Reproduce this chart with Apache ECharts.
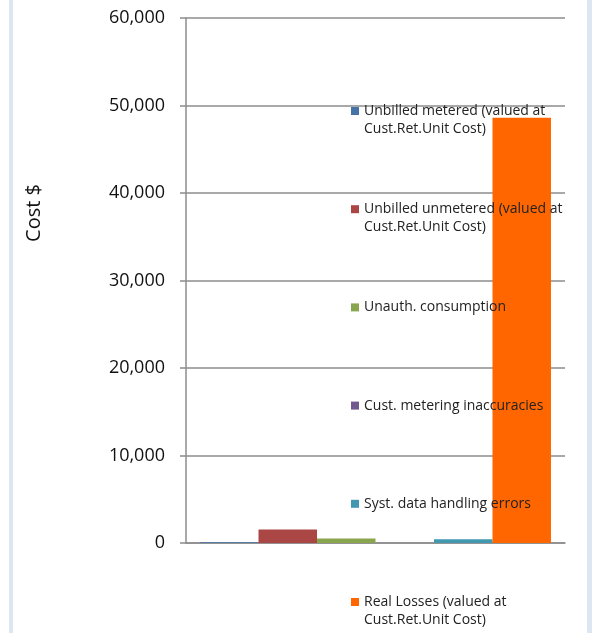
<!DOCTYPE html>
<html>
<head>
<meta charset="utf-8">
<script src="https://cdn.jsdelivr.net/npm/echarts@6/dist/echarts.min.js"></script>
<style>
  html, body { margin: 0; padding: 0; background: #fff; }
  #chart { width: 592px; height: 633px; }
</style>
</head>
<body>
<div id="chart"></div>
<script>
// one empty category, six cost components
const categories = [''];
const seriesNames = [
  'Unbilled metered (valued at Cust.Ret.Unit Cost)',
  'Unbilled unmetered (valued at Cust.Ret.Unit Cost)',
  'Unauth. consumption',
  'Cust. metering inaccuracies',
  'Syst. data handling errors',
  'Real Losses (valued at Cust.Ret.Unit Cost)'
];
// how the legend wraps each name
const legendLines = [
  ['Unbilled metered (valued at', 'Cust.Ret.Unit Cost)'],
  ['Unbilled unmetered (valued at', 'Cust.Ret.Unit Cost)'],
  ['Unauth. consumption'],
  ['Cust. metering inaccuracies'],
  ['Syst. data handling errors'],
  ['Real Losses (valued at', 'Cust.Ret.Unit Cost)']
];
const seriesValues = [100, 1550, 520, 0, 420, 48600];
const colors = ['#4572A7', '#AA4643', '#89A54E', '#71588F', '#4198AF', '#FF6600'];
const yTicks = { min: 0, max: 60000, interval: 10000 };

const chart = echarts.init(document.getElementById('chart'));
const font = '"Open Sans", "Liberation Sans", sans-serif';

// pad every legend entry to 3 lines so the marker sits on the first text line
const legendText = {};
seriesNames.forEach((n, i) => {
  const l = legendLines[i];
  legendText[n] = l.length > 1 ? '\n' + l[0] + '\n' + l[1] : '\n' + l[0] + '\n';
});

let option = {
  animation: false,
  color: colors,
  grid: { left: 186, right: 27, top: 18, bottom: 90 },
  legend: {
    orient: 'vertical',
    left: 351,
    top: 84,
    height: 600,
    padding: 0,
    itemWidth: 8,
    itemHeight: 8,
    itemGap: 44.2,
    icon: 'rect',
    data: seriesNames,
    formatter: n => legendText[n],
    textStyle: { fontFamily: font, fontSize: 14, color: '#222', lineHeight: 18 }
  },
  xAxis: {
    type: 'category',
    data: categories,
    axisLine: { lineStyle: { color: '#8c8c8c', width: 1.5 } },
    axisTick: { show: false },
    axisLabel: { show: false }
  },
  yAxis: {
    type: 'value',
    min: yTicks.min,
    max: yTicks.max,
    interval: yTicks.interval,
    axisLine: { show: true, lineStyle: { color: '#8c8c8c', width: 1.5 } },
    axisTick: { show: true, length: 6, lineStyle: { color: '#8c8c8c', width: 1.5 } },
    axisLabel: {
      margin: 21,
      fontFamily: font,
      fontSize: 18,
      color: '#111',
      formatter: v => v.toLocaleString('en-US')
    },
    splitLine: { lineStyle: { color: '#8c8c8c', width: 1.5 } }
  },
  series: seriesNames.map((n, i) => ({
    type: 'bar',
    name: n,
    data: [seriesValues[i]],
    barGap: 0,
    barCategoryGap: '7.4%'
  })),
  graphic: [
    { type: 'rect', shape: { x: 9, y: 0, width: 4, height: 633 }, style: { fill: '#dde7f1' }, silent: true },
    { type: 'rect', shape: { x: 587, y: 0, width: 5, height: 633 }, style: { fill: '#dde7f1' }, silent: true },
    {
      type: 'text',
      x: 24, y: 213,
      rotation: Math.PI / 2,
      style: {
        text: 'Cost $',
        fontFamily: font,
        fontSize: 20,
        fill: '#111',
        align: 'center',
        verticalAlign: 'top'
      }
    }
  ]
};

chart.setOption(option);
</script>
</body>
</html>
